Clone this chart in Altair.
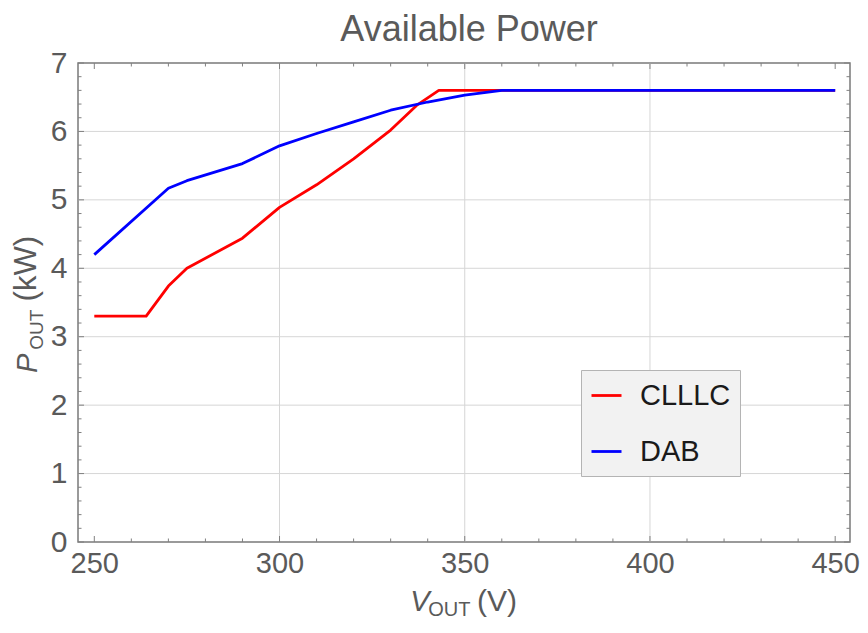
import altair as alt
import pandas as pd

# ---- data ----
clllc_v = [250, 264, 270, 275, 290, 300, 310, 320, 330, 337, 343, 450]
clllc_p = [3.30, 3.30, 3.74, 4.00, 4.44, 4.89, 5.22, 5.60, 6.02, 6.38, 6.60, 6.60]

dab_v = [250, 270, 275, 290, 300, 310, 320, 330, 340, 350, 360, 450]
dab_p = [4.20, 5.17, 5.28, 5.53, 5.79, 5.97, 6.14, 6.31, 6.43, 6.53, 6.60, 6.60]

series_names = ["CLLLC", "DAB"]
series_colors = ["#ff0000", "#0000ff"]

x_labels = [250, 300, 350, 400, 450]
y_labels = [0, 1, 2, 3, 4, 5, 6, 7]
x_grid = [300, 350, 400]
y_grid = [1, 2, 3, 4, 5, 6]
x_major = [250, 300, 350, 400, 450]
x_minor = [v for v in range(250, 451, 10) if v % 50 != 0]
y_major = [0, 1, 2, 3, 4, 5, 6, 7]
y_minor = [round(i * 0.2, 1) for i in range(1, 35) if i % 5 != 0]

title_text = "Available Power"

W, H = 772, 479
FONT = "Liberation Sans"
GRAY = "#5a5a5a"

rows = []
for v, p in zip(clllc_v, clllc_p):
    rows.append({"V": v, "P": p, "series": "CLLLC"})
for v, p in zip(dab_v, dab_p):
    rows.append({"V": v, "P": p, "series": "DAB"})
df = pd.DataFrame(rows)

xs = alt.Scale(domain=[245.6, 454.0], nice=False, zero=False)
ys = alt.Scale(domain=[0, 7], nice=False, zero=False)

# one shared axis definition, used by every layer so the merged axis keeps it
x_axis = alt.Axis(
    values=x_labels, title=None, grid=False, ticks=False, domain=False,
    labelFontSize=29, labelColor=GRAY, labelFont=FONT, labelPadding=7,
    labelFlush=False, labelOverlap=False, labelBound=False, format="d")
y_axis = alt.Axis(
    values=y_labels, title=None, grid=False, ticks=False, domain=False,
    labelFontSize=30, labelColor=GRAY, labelFont=FONT, labelPadding=11,
    labelFlush=False, labelOverlap=False, labelBound=False, format="d")

# grid lines
grid_x = alt.Chart(pd.DataFrame({"v": x_grid})).mark_rule(color="#d6d6d6", strokeWidth=1).encode(
    x=alt.X("v:Q", scale=xs, axis=x_axis), y=alt.value(0), y2=alt.value(H))
grid_y = alt.Chart(pd.DataFrame({"v": y_grid})).mark_rule(color="#d6d6d6", strokeWidth=1).encode(
    y=alt.Y("v:Q", scale=ys, axis=y_axis), x=alt.value(0), x2=alt.value(W))

def xticks(vals, length):
    d = pd.DataFrame({"v": vals})
    b = alt.Chart(d).mark_rule(color="#808080", strokeWidth=1).encode(
        x=alt.X("v:Q", scale=xs, axis=x_axis), y=alt.value(H), y2=alt.value(H - length))
    t = alt.Chart(d).mark_rule(color="#808080", strokeWidth=1).encode(
        x=alt.X("v:Q", scale=xs, axis=x_axis), y=alt.value(0), y2=alt.value(length))
    return [b, t]

def yticks(vals, length):
    d = pd.DataFrame({"v": vals})
    l = alt.Chart(d).mark_rule(color="#808080", strokeWidth=1).encode(
        y=alt.Y("v:Q", scale=ys, axis=y_axis), x=alt.value(0), x2=alt.value(length))
    r = alt.Chart(d).mark_rule(color="#808080", strokeWidth=1).encode(
        y=alt.Y("v:Q", scale=ys, axis=y_axis), x=alt.value(W), x2=alt.value(W - length))
    return [l, r]

lines = alt.Chart(df).mark_line(strokeWidth=2.8, strokeJoin="round").encode(
    x=alt.X("V:Q", scale=xs, axis=x_axis),
    y=alt.Y("P:Q", scale=ys, axis=y_axis),
    color=alt.Color("series:N", scale=alt.Scale(domain=series_names, range=series_colors),
                    legend=alt.Legend(
                        orient="none", legendX=503, legendY=307, title=None,
                        symbolType="stroke", symbolSize=900, symbolStrokeWidth=2.8,
                        labelFontSize=29, labelFont=FONT, labelColor="#1a1a1a",
                        padding=9, rowPadding=24, labelOffset=17,
                        fillColor="#f2f2f2", strokeColor="#b4b4b4")),
    order=alt.Order("V:Q"),
)

def txt(s, x, y, size, angle=0, italic=False, color=GRAY):
    kw = dict(align="left", baseline="alphabetic", font=FONT, fontSize=size, color=color)
    if angle:
        kw["angle"] = angle
    if italic:
        kw["fontStyle"] = "italic"
    return alt.Chart(pd.DataFrame({"t": [s]})).mark_text(**kw).encode(
        text="t:N", x=alt.value(x), y=alt.value(y))

title = alt.Chart(pd.DataFrame({"t": [title_text]})).mark_text(
    align="center", baseline="alphabetic", font=FONT, fontSize=36, color=GRAY).encode(
    text="t:N", x=alt.value(391), y=alt.value(-22))

x_title = [
    txt("V", 332.3, 547.5, 29, italic=True),
    txt("OUT", 350.3, 552.5, 20),
    txt("(V)", 399.0, 547.7, 30),
]
y_title = [
    txt("P", -40.7, 310.0, 29, angle=270, italic=True),
    txt("OUT", -34.7, 286.7, 19, angle=270),
    txt("(kW)", -42.3, 238.4, 31, angle=270),
]

layers = [grid_x, grid_y]
layers += xticks(x_minor, 3.5) + xticks(x_major, 6)
layers += yticks(y_minor, 3.5) + yticks(y_major, 6)
layers += [lines, title] + x_title + y_title

chart = alt.layer(*layers).properties(
    width=W, height=H,
    padding={"left": 70, "top": 55, "right": 10, "bottom": 78},
    autosize="none",
).configure_view(stroke="#7a7a7a", strokeWidth=1.5)

chart.save("out.html", embed_options={"renderer": "svg", "actions": False})
